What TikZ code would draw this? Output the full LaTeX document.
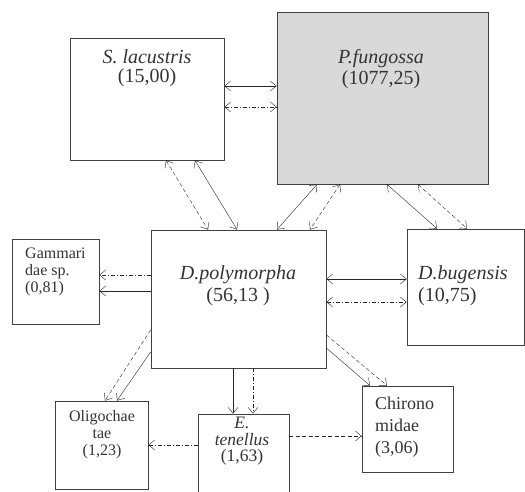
\documentclass[tikz,border=0pt]{standalone}
\usepackage{fontspec}
\setmainfont{Liberation Serif}
\usetikzlibrary{arrows.meta}
\tikzset{
    box/.style={draw=black!75, line width=0.8pt, inner sep=0pt},
    lbl/.style={inner sep=0pt, text=black!80},
    big/.style={lbl, align=center, font=\fontsize{20}{20}\selectfont},
    small/.style={lbl, font=\fontsize{16}{17}\selectfont},
    link/.style={thin, draw=black!85, {Straight Barb[length=6pt,width=10pt]}-{Straight Barb[length=6pt,width=10pt]}},
    feed/.style={thin, draw=black!85, -{Straight Barb[length=6pt,width=10pt]}},
    dsh/.style={dash pattern=on 4pt off 2.5pt},
    dshdot/.style={dash pattern=on 4pt off 2pt on 1pt off 2pt},
}

\begin{document}
\begin{tikzpicture}[x=1pt, y=-1pt]
    \useasboundingbox (0,0) rectangle (525,492);

    \node[box, minimum width=154pt, minimum height=122pt] (slac) at (147,99) {};
    \node[box, fill=black!15, minimum width=211pt, minimum height=172pt] (pfun) at (382.5,98) {};
    \node[box, minimum width=87pt, minimum height=85pt] (gam) at (55.5,281.5) {};
    \node[box, minimum width=175pt, minimum height=138pt] (dpol) at (238.5,299) {};
    \node[box, minimum width=117pt, minimum height=116pt] (dbug) at (465.5,287) {};
    \node[box, minimum width=91pt, minimum height=86pt] (chir) at (407.5,429) {};
    \node[box, minimum width=93pt, minimum height=88pt] (olig) at (101.5,445) {};
    \node[box, minimum width=91pt, minimum height=86pt] (eten) at (243.5,457) {};

    \node[big, anchor=north, font=\fontsize{20}{19}\selectfont] at (147,49) {\textit{S. lacustris}\\(15,00)};
    \node[big, anchor=north, font=\fontsize{20}{21}\selectfont] at (381,49) {\textit{P.fungossa}\\(1077,25)};
    \node[big, anchor=north, font=\fontsize{20}{22}\selectfont] at (238,265) {\textit{D.polymorpha}\\(56,13 )};
    \node[big, anchor=north west, align=left, font=\fontsize{20}{22}\selectfont] at (418,265) {\textit{D.bugensis}\\(10,75)};
    \node[small, anchor=north west, align=left] at (25,248) {Gammari\\dae sp.\\(0,81)};
    \node[small, anchor=north, align=center] at (102,410) {Oligochae\\tae\\(1,23)};
    \node[lbl, anchor=north, align=center, font=\fontsize{17.5}{16.5}\selectfont] at (242,417) {\textit{E.}\\\textit{tenellus}\\(1,63)};
    \node[lbl, anchor=north west, align=left, font=\fontsize{18}{22}\selectfont] at (375,397) {Chirono\\midae\\(3,06)};

    \draw[link] ([yshift=13pt]slac.east) -- ([yshift=12pt]pfun.west);
    \draw[link, dshdot] ([yshift=-8pt]slac.east) -- ([yshift=-9pt]pfun.west);
    \draw[link, dsh] ([xshift=19pt]slac.south) -- ([xshift=-30.5pt]dpol.north);
    \draw[link] ([xshift=48pt]slac.south) -- ([xshift=-1.5pt]dpol.north);
    \draw[link] ([xshift=-65.5pt]pfun.south) -- ([xshift=38.5pt]dpol.north);
    \draw[link, dsh] ([xshift=-42.5pt]pfun.south) -- ([xshift=71.5pt]dpol.north);
    \draw[link] ([xshift=4.5pt]pfun.south) -- ([xshift=-28.5pt]dbug.north);
    \draw[link, dsh] ([xshift=35.5pt]pfun.south) -- ([xshift=1.5pt]dbug.north);
    \draw[link] ([yshift=20pt]dpol.east) -- ([yshift=8pt]dbug.west);
    \draw[link, dshdot] ([yshift=-3pt]dpol.east) -- ([yshift=-15pt]dbug.west);
    \draw[feed, dshdot] ([yshift=24pt]dpol.west) -- ([yshift=6.5pt]gam.east);
    \draw[feed] ([yshift=8pt]dpol.west) -- ([yshift=-9.5pt]gam.east);
    \draw[feed, dsh] ([yshift=-31pt]dpol.west) -- ([xshift=3.5pt]olig.north);
    \draw[feed] ([yshift=-53pt]dpol.west) -- ([xshift=15.5pt]olig.north);
    \draw[feed] ([xshift=-5.5pt]dpol.south) -- ([xshift=-10.5pt]eten.north);
    \draw[feed, dshdot] ([xshift=14.5pt]dpol.south) -- ([xshift=9.5pt]eten.north);
    \draw[feed, dsh] ([yshift=-36pt]dpol.east) -- ([xshift=-20.5pt]chir.north);
    \draw[feed] ([yshift=-49pt]dpol.east) -- ([xshift=-37.5pt]chir.north);
    \draw[feed, dshdot] ([yshift=12pt]eten.west) -- (olig.east);
    \draw[feed, dsh] ([yshift=21pt]eten.east) -- ([yshift=-7pt]chir.west);
\end{tikzpicture}
\end{document}
